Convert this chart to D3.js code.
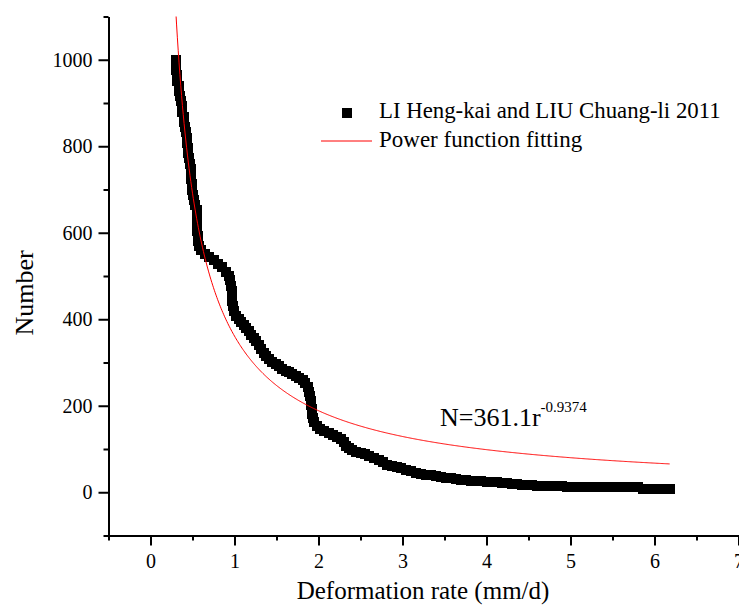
<!DOCTYPE html>
<html>
<head>
<meta charset="utf-8">
<script src="https://cdn.jsdelivr.net/npm/d3@7"></script>
<style>
    body { margin: 0; background: #fff; }
    svg text { font-family: "Liberation Serif", "Times New Roman", serif; fill: #000; }
</style>
</head>
<body>
<div class="myChart"></div>
<script>
const rates = [
    0.300, 0.302, 0.305, 0.315, 0.320, 0.335, 0.345, 0.350, 0.360, 0.377, 0.380, 0.395, 0.403,
    0.415, 0.425, 0.430, 0.438, 0.445, 0.452, 0.455, 0.470, 0.485, 0.488, 0.488, 0.490, 0.495,
    0.510, 0.516, 0.535, 0.550, 0.550, 0.552, 0.555, 0.555, 0.560, 0.565, 0.580,
    0.60, 0.65, 0.70, 0.75, 0.80, 0.85, 0.90, 0.935,
    0.950, 0.960, 0.965, 0.970, 0.975, 0.980, 0.990, 1.020,
    1.05, 1.08, 1.11, 1.14, 1.17, 1.20, 1.23, 1.26, 1.29, 1.32, 1.35, 1.37, 1.41, 1.45, 1.49,
    1.53, 1.57, 1.61, 1.65, 1.69, 1.73, 1.77, 1.81, 1.84, 1.87, 1.89, 1.90, 1.91, 1.915, 1.92,
    1.925, 1.935, 1.95, 1.98, 2.02, 2.07, 2.12, 2.17, 2.22, 2.27, 2.30, 2.33, 2.36, 2.40, 2.45,
    2.50, 2.55, 2.60, 2.66, 2.72, 2.77, 2.82, 2.88, 2.94, 2.98, 3.04, 3.10, 3.16, 3.22, 3.28,
    3.34, 3.40, 3.46, 3.52, 3.58, 3.64, 3.70, 3.76, 3.82, 3.88, 3.94, 4.00, 4.06, 4.12, 4.18,
    4.24, 4.30, 4.36, 4.42, 4.48, 4.54, 4.60, 4.66, 4.72, 4.78, 4.84, 4.90, 4.96, 5.02, 5.08,
    5.14, 5.20, 5.26, 5.32, 5.38, 5.44, 5.50, 5.56, 5.62, 5.68, 5.74, 5.80, 5.86, 5.92, 5.98,
    6.04, 6.10, 6.16, 6.18
]
// cumulative number for each of those rates
const numbers = [
    1000, 988, 976, 964, 952, 940, 928, 916, 904, 892, 880, 868, 856,
    844, 832, 820, 808, 796, 784, 772, 760, 748, 736, 724, 712, 700,
    688, 676, 664, 652, 640, 628, 616, 604, 592, 580, 570,
    560, 552, 544, 536, 528, 520, 510, 500,
    490, 478, 466, 454, 442, 430, 418, 408,
    400, 393, 386, 379, 372, 364, 357, 349, 340, 331, 322, 314, 308, 302, 296,
    291, 286, 281, 277, 274, 269, 265, 259, 252, 243, 232, 222, 212, 202, 192,
    182, 172, 162, 153, 146, 141, 136, 133, 128, 124, 116, 108, 102, 98, 94,
    91, 88, 84, 79, 74, 69, 64, 61, 58, 56, 52, 48, 44, 42, 40,
    39, 38, 36, 34, 32, 30, 29, 28, 27, 26, 25, 24, 23, 23, 22,
    21, 19, 18, 17, 16, 16, 15, 15, 14, 14, 14, 14, 13, 13, 13,
    13, 12, 11, 11, 11, 11, 11, 11, 11, 11, 11, 11, 8, 8, 8,
    8, 8, 8, 8
]
// power fit shown on the chart: N = 361.1 r^-0.9374
const fitA = 361.1
const fitB = -0.9374
const fitRange = [0.3, 6.18]

const xTicks = [0, 1, 2, 3, 4, 5, 6, 7]
const xMinor = [-0.5, 0.5, 1.5, 2.5, 3.5, 4.5, 5.5, 6.5]
const yTicks = [0, 200, 400, 600, 800, 1000]
const yMinor = [-100, 100, 300, 500, 700, 900, 1100]

const seriesName = 'LI Heng-kai and LIU Chuang-li 2011'
const fitName = 'Power function fitting'

var serif = '"Liberation Serif", "Times New Roman", serif'
var width = 739
var height = 615

var svg = d3
    .select('.myChart')
    .append('svg')
    .attr('width', width)
    .attr('height', height)

var xScale = d3.scaleLinear().domain([-0.5, 7]).range([108.5, 738.5])
var yScale = d3.scaleLinear().domain([-100, 1100]).range([535.5, 16.5])

svg.append('defs').append('clipPath').attr('id', 'plotClip')
    .append('rect')
    .attr('x', xScale(-0.5)).attr('y', yScale(1100))
    .attr('width', xScale(7) - xScale(-0.5))
    .attr('height', yScale(-100) - yScale(1100))

// markers
var mark = 10
var points = rates.map((r, i) => [r, numbers[i]])
svg.append('g')
    .attr('class', 'marks')
    .selectAll('rect')
    .data(points)
    .enter()
    .append('rect')
    .attr('x', d => Math.round(xScale(d[0]) - mark / 2))
    .attr('y', d => Math.round(yScale(d[1]) - mark / 2))
    .attr('width', mark)
    .attr('height', mark)
    .attr('fill', '#000')
    .attr('shape-rendering', 'crispEdges')

// fit curve
var fitRates = d3.range(fitRange[0], fitRange[1], 0.01).concat([fitRange[1]])
var line = d3.line()
    .x(d => xScale(d))
    .y(d => yScale(fitA * Math.pow(d, fitB)))
svg.append('path')
    .attr('d', line(fitRates))
    .attr('fill', 'none')
    .attr('stroke', '#ff0000')
    .attr('stroke-width', 1)
    .attr('clip-path', 'url(#plotClip)')

// axes
const yAxis = d3.axisLeft(yScale).tickValues(yTicks).tickSize(10).tickSizeOuter(0).tickPadding(6).tickFormat(d3.format('d'))
const yAxisMinor = d3.axisLeft(yScale).tickValues(yMinor).tickSize(5).tickSizeOuter(0).tickFormat('')
const xAxis = d3.axisBottom(xScale).tickValues(xTicks).tickSize(10).tickSizeOuter(0).tickPadding(8).tickFormat(d3.format('d'))
const xAxisMinor = d3.axisBottom(xScale).tickValues(xMinor).tickSize(5).tickSizeOuter(0).tickFormat('')

svg.append('g').attr('class', 'axis').attr('transform', `translate(${xScale(-0.5)}, 0)`).call(yAxisMinor)
svg.append('g').attr('class', 'axis').attr('transform', `translate(${xScale(-0.5)}, 0)`).call(yAxis)
svg.append('g').attr('class', 'axis').attr('transform', `translate(0, ${yScale(-100)})`).call(xAxisMinor)
svg.append('g').attr('class', 'axis').attr('transform', `translate(0, ${yScale(-100)})`).call(xAxis)

d3.selectAll('.axis').attr('font-family', serif).attr('font-size', 20)
d3.selectAll('.axis path').attr('stroke', '#000').attr('stroke-width', 2)
d3.selectAll('.axis line').attr('stroke', '#000').attr('stroke-width', 2)
d3.selectAll('.axis text')
    .style('font-family', serif)
    .style('font-size', '20px')
    .attr('fill', '#000')

// axis titles
svg.append('text')
    .attr('x', 423)
    .attr('y', 599)
    .attr('text-anchor', 'middle')
    .style('font-size', '25px')
    .text('Deformation rate (mm/d)')

svg.append('text')
    .attr('transform', 'translate(33, 293) rotate(-90)')
    .attr('text-anchor', 'middle')
    .style('font-size', '26px')
    .text('Number')

// legend
var legend = svg.append('g').attr('class', 'legend')
legend.append('rect')
    .attr('x', 342).attr('y', 108)
    .attr('width', 10).attr('height', 10)
    .attr('fill', '#000')
    .attr('shape-rendering', 'crispEdges')
legend.append('text')
    .attr('x', 379).attr('y', 118)
    .style('font-size', '22.8px')
    .text(seriesName)
legend.append('line')
    .attr('x1', 321).attr('x2', 372)
    .attr('y1', 141).attr('y2', 141)
    .attr('stroke', '#ff0000')
    .attr('stroke-width', 1)
legend.append('text')
    .attr('x', 379).attr('y', 147)
    .style('font-size', '23px')
    .text(fitName)

// equation
var eq = svg.append('text')
    .attr('x', 440).attr('y', 426)
    .style('font-size', '26px')
eq.append('tspan').text('N=' + fitA + 'r')
eq.append('tspan')
    .attr('dy', -14)
    .style('font-size', '15px')
    .text(fitB)
</script>
</body>
</html>
